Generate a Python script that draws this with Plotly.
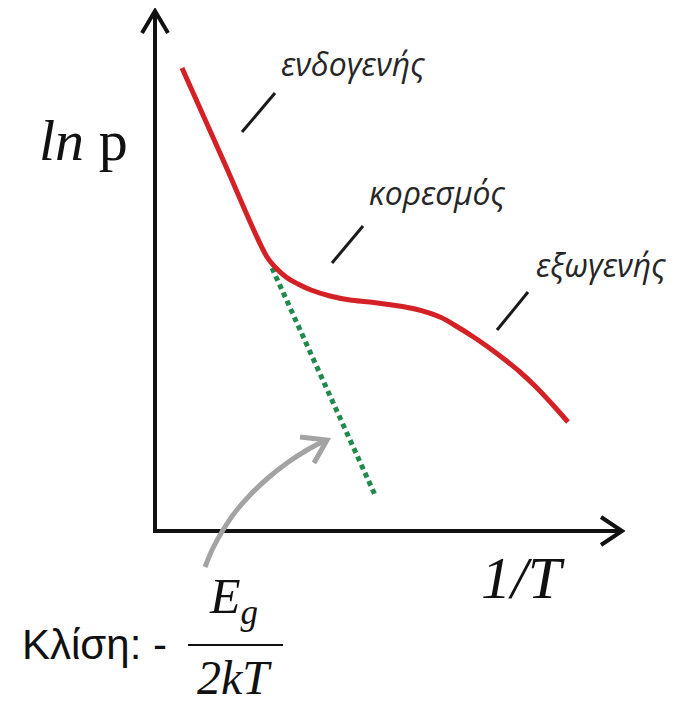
import plotly.graph_objects as go

W, H = 677, 702
OFF = 8  # page body margin offset

# Schematic curve ln p vs 1/T (diagram units, y grows downward)
inv_T = [182, 224, 267, 276, 286, 298, 311, 330, 350, 370, 392, 415, 440, 456, 472, 488, 504, 520, 536, 552, 568]
ln_p = [68, 162, 257, 268, 277, 284, 290, 296, 300, 302, 305, 309, 317, 326, 336, 347, 359, 372, 387, 404, 422]

# Tangent (intrinsic slope) extension
tan_x = [272, 375]
tan_y = [268, 495]

# Region labels and pointer ticks
region_labels = ["ενδογενής", "κορεσμός", "εξωγενής"]
label_x = [353, 437, 601]
label_y = [63, 192, 264]
tick_x0 = [242, 332, 497]
tick_y0 = [132, 263, 330]
tick_x1 = [275, 363, 528]
tick_y1 = [93, 226, 292]

# Axes
axis_origin = (155, 531)
axis_top = 11
axis_right = 622

# Gray pointer arrow
ptr_x = [205, 213, 223, 236, 251, 268, 287, 307, 326]
ptr_y = [567, 548, 530, 511, 494, 478, 463, 450, 440]

fig = go.Figure()

ox, oy = axis_origin
fig.add_trace(go.Scatter(x=[ox, ox, axis_right], y=[axis_top, oy, oy], mode="lines",
                         line=dict(color="#111111", width=4), hoverinfo="skip"))
fig.add_trace(go.Scatter(x=[ox - 13, ox, ox + 13], y=[axis_top + 22, axis_top, axis_top + 22], mode="lines",
                         line=dict(color="#111111", width=4), hoverinfo="skip"))
fig.add_trace(go.Scatter(x=[axis_right - 21, axis_right, axis_right - 21], y=[oy - 14, oy, oy + 14], mode="lines",
                         line=dict(color="#111111", width=4), hoverinfo="skip"))

fig.add_trace(go.Scatter(x=tan_x, y=tan_y, mode="lines",
                         line=dict(color="#1f8a4c", width=5, dash="5px,4px"), hoverinfo="skip"))

fig.add_trace(go.Scatter(x=inv_T, y=ln_p, mode="lines",
                         line=dict(color="#d42126", width=5, shape="spline", smoothing=1.0), hoverinfo="skip"))

for x0, y0, x1, y1 in zip(tick_x0, tick_y0, tick_x1, tick_y1):
    fig.add_trace(go.Scatter(x=[x0, x1], y=[y0, y1], mode="lines",
                             line=dict(color="#1a1a1a", width=3), hoverinfo="skip"))

fig.add_trace(go.Scatter(x=ptr_x, y=ptr_y, mode="lines",
                         line=dict(color="#a3a3a3", width=5, shape="spline"), hoverinfo="skip"))
fig.add_trace(go.Scatter(x=[300, 327, 314], y=[437, 440, 463], mode="lines",
                         line=dict(color="#a3a3a3", width=5), hoverinfo="skip"))

fig.add_trace(go.Scatter(x=[188, 283], y=[645, 645], mode="lines",
                         line=dict(color="#111111", width=2), hoverinfo="skip"))

annotations = []
for t, x, y in zip(region_labels, label_x, label_y):
    annotations.append(dict(x=x, y=y, text=f"<i>{t}</i>", showarrow=False,
                            font=dict(family="Open Sans", size=32, color="#262626"),
                            xanchor="center", yanchor="middle"))

annotations += [
    dict(x=83, y=140, text="<i>ln</i> p", showarrow=False,
         font=dict(family="Liberation Serif", size=58, color="#111111"), xanchor="center", yanchor="middle"),
    dict(x=523, y=578, text="<i>1/T</i>", showarrow=False,
         font=dict(family="Liberation Serif", size=60, color="#111111"), xanchor="center", yanchor="middle"),
    dict(x=94, y=644, text="Κλίση: -", showarrow=False,
         font=dict(family="Liberation Sans", size=42, color="#111111"), xanchor="center", yanchor="middle"),
    dict(x=233, y=600, text="<i>E<sub>g</sub></i>", showarrow=False,
         font=dict(family="Liberation Serif", size=50, color="#111111"), xanchor="center", yanchor="middle"),
    dict(x=234, y=677, text="<i>2kT</i>", showarrow=False,
         font=dict(family="Liberation Serif", size=48, color="#111111"), xanchor="center", yanchor="middle"),
]

fig.update_layout(
    width=W, height=H,
    margin=dict(l=0, r=0, t=0, b=0),
    paper_bgcolor="white", plot_bgcolor="white",
    showlegend=False,
    xaxis=dict(range=[OFF, W + OFF], visible=False, fixedrange=True),
    yaxis=dict(range=[H + OFF, OFF], visible=False, fixedrange=True),
    annotations=annotations,
)

fig.write_html("out.html")
